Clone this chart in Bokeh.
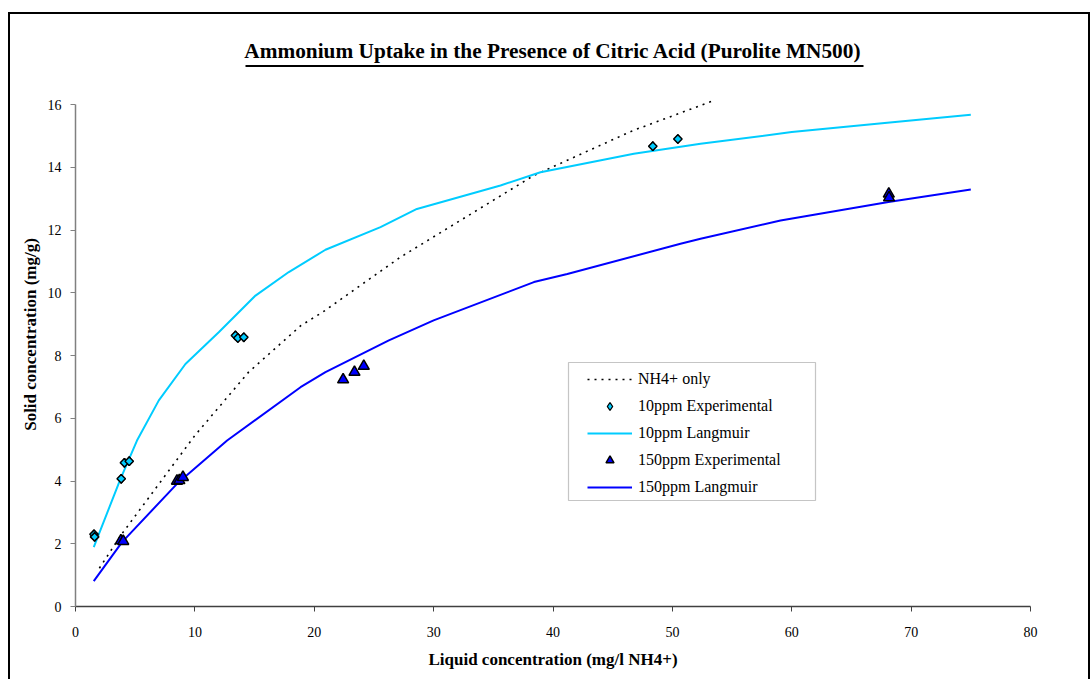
import numpy as np
from bokeh.plotting import figure
from bokeh.models import Legend, LegendItem, BoxAnnotation, Range1d, FixedTicker
from bokeh.embed import file_html
from bokeh.resources import INLINE

# ---- data ----
nh4_x = [2.0, 3.8, 10.0, 14.5, 18.9, 20.7, 27.2, 38.4, 46.7, 53.5]
nh4_y = [1.22, 2.27, 5.45, 7.47, 8.96, 9.38, 11.13, 13.74, 15.17, 16.13]

exp10_x = [1.55, 1.6, 3.83, 4.1, 4.5, 13.4, 13.6, 14.1, 48.36, 50.46]
exp10_y = [2.3, 2.22, 4.07, 4.58, 4.63, 8.64, 8.56, 8.58, 14.67, 14.9]

lang10_x = [1.53, 3.77, 5.15, 6.98, 9.21, 12.0, 15.08, 17.87, 20.94, 25.55, 28.6,
            35.6, 38.95, 46.77, 52.36, 60.0, 68.0, 75.0]
lang10_y = [1.89, 4.07, 5.29, 6.57, 7.73, 8.74, 9.91, 10.66, 11.37, 12.09, 12.67,
            13.42, 13.84, 14.43, 14.75, 15.12, 15.42, 15.67]

exp150_x = [3.8, 4.0, 8.5, 8.7, 9.0, 22.42, 23.37, 24.15, 68.13, 68.15]
exp150_y = [2.1, 2.08, 4.0, 4.02, 4.12, 7.23, 7.47, 7.66, 13.15, 13.03]

lang150_x = [1.53, 3.9, 8.5, 12.7, 18.85, 20.94, 26.25, 30.0, 38.4, 41.2, 50.68,
             52.36, 59.06, 68.1, 75.0]
lang150_y = [0.81, 2.05, 3.91, 5.29, 6.99, 7.47, 8.48, 9.12, 10.34, 10.6, 11.56,
             11.72, 12.3, 12.89, 13.29]

x_ticks = [0, 10, 20, 30, 40, 50, 60, 70, 80]
y_ticks = [0, 2, 4, 6, 8, 10, 12, 14, 16]

TITLE = "Ammonium Uptake in the Presence of Citric Acid (Purolite MN500)"
XLABEL = "Liquid concentration (mg/l NH4+)"
YLABEL = "Solid concentration (mg/g)"

FONT = "Liberation Serif"
CYAN = "#00CCFF"
BLUE = "#0000FF"

# frame spans 0..80 horizontally; vertically the frame reaches a little above the
# y axis (which is bounded to 0..16) so that the title underline can be drawn
Y_TOP = 544 / 31.375

p = figure(
    frame_width=955, frame_height=544,
    min_border_left=65, min_border_right=58, min_border_top=48, min_border_bottom=73,
    x_range=Range1d(0, 80), y_range=Range1d(0, Y_TOP),
    output_backend="svg", toolbar_location=None,
    background_fill_color="white", border_fill_color="white",
)
p.outline_line_color = None
p.grid.visible = False
p.styles = {"margin-left": "8px", "margin-top": "12px",
            "border-left": "2px solid black", "border-top": "2px solid black",
            "border-right": "2px solid black"}

p.title.text = TITLE
p.title.align = "center"
p.title.text_font = FONT
p.title.text_font_size = "21.3px"
p.title.text_font_style = "bold"
p.title.text_color = "black"
p.title.standoff = 0

for ax, ticks in ((p.xaxis[0], x_ticks), (p.yaxis[0], y_ticks)):
    ax.ticker = FixedTicker(ticks=ticks)
    ax.minor_tick_line_color = None
    ax.major_tick_in = 0
    ax.major_tick_out = 5
    ax.axis_line_color = "#808080"
    ax.major_tick_line_color = "#808080"
    ax.axis_line_width = 1.5
    ax.major_label_text_font = FONT
    ax.major_label_text_font_size = "14px"
    ax.major_label_text_color = "black"
    ax.axis_label_text_font = FONT
    ax.axis_label_text_font_size = "17px"
    ax.axis_label_text_font_style = "bold"
    ax.axis_label_text_color = "black"

p.yaxis.bounds = (0, 16)
p.xaxis.axis_label = XLABEL
p.yaxis.axis_label = YLABEL
p.xaxis.major_label_standoff = 15
p.xaxis.axis_label_standoff = 10
p.yaxis.major_label_standoff = 9
p.yaxis.axis_label_standoff = 5
p.xaxis.axis_line_color = "#404040"
p.xaxis.major_tick_line_color = "#404040"

r_nh4 = p.line(nh4_x, nh4_y, line_color="black", line_width=1.6, line_dash="2 5")
r_l10 = p.line(lang10_x, lang10_y, line_color=CYAN, line_width=2)
r_l150 = p.line(lang150_x, lang150_y, line_color=BLUE, line_width=2)
# the legend uses the small diamond; the rotated squares drawn on top give the
# even-sided diamonds of the reference
r_e10_leg = p.scatter(exp10_x, exp10_y, marker="diamond", size=9,
                      fill_color=CYAN, line_color="black", line_width=1.3)
p.scatter(exp10_x, exp10_y, marker="square", angle=np.pi / 4, size=6,
          fill_color=CYAN, line_color="black", line_width=1.5)
r_e150 = p.scatter(exp150_x, exp150_y, marker="triangle", size=11, fill_color=BLUE,
                   line_color="black", line_width=1.5)

# legend frame (canvas pixel units, inside the plot frame)
legend_box = BoxAnnotation(left=556, right=803, top=346, bottom=484,
                           left_units="canvas", right_units="canvas",
                           top_units="canvas", bottom_units="canvas",
                           fill_color="white", fill_alpha=1.0,
                           line_color="#404040", line_width=1.2)
p.add_layout(legend_box)

legend = Legend(
    items=[
        LegendItem(label="NH4+ only", renderers=[r_nh4]),
        LegendItem(label="10ppm Experimental", renderers=[r_e10_leg]),
        LegendItem(label="10ppm Langmuir", renderers=[r_l10]),
        LegendItem(label="150ppm Experimental", renderers=[r_e150]),
        LegendItem(label="150ppm Langmuir", renderers=[r_l150]),
    ],
    location=(512, 109),
    orientation="vertical",
    glyph_width=45, glyph_height=20,
    label_standoff=6, label_height=20,
    spacing=7, padding=0, margin=0,
    label_text_font=FONT, label_text_font_size="16px", label_text_color="black",
    border_line_alpha=0.0, background_fill_alpha=0.0,
)
p.add_layout(legend, "center")

# underline of the title (canvas pixel units, at the top edge of the frame)
underline = BoxAnnotation(left=233, right=851, top=48.5, bottom=50.5,
                          left_units="canvas", right_units="canvas",
                          top_units="canvas", bottom_units="canvas",
                          fill_color="black", fill_alpha=1.0, line_color=None)
p.add_layout(underline)

open("out.html", "w").write(file_html(p, INLINE))
